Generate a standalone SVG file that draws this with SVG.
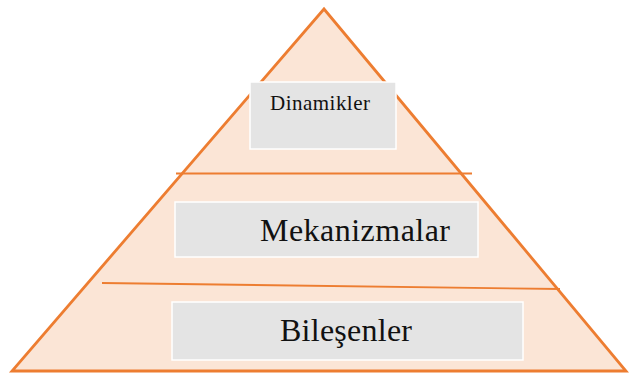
<svg xmlns="http://www.w3.org/2000/svg" width="629" height="374" viewBox="0 0 629 374">
<style>
.tri{fill:#FBE5D6;stroke:#ED7D31;stroke-width:2.8;stroke-linejoin:miter}
.sep{stroke:#ED7D31;stroke-width:1.8;fill:none}
.box{fill:#E4E4E4;stroke:#FFFFFF;stroke-width:1.5}
.lbl{font-family:"Liberation Serif","Times New Roman",serif;fill:#111}
</style>
<rect width="629" height="374" fill="#FFFFFF"/>
<g id="pyramid">
<polygon class="tri" points="324,9 12,371 626,371"/>
</g>
<g id="connectors">
<line class="sep" x1="176" y1="173.5" x2="472" y2="173.5"/>
<line class="sep" x1="102" y1="283" x2="560" y2="289"/>
</g>
<g id="dinamikler">
<rect class="box" x="250" y="82" width="146" height="67"/>
<text class="lbl" x="270" y="110" font-size="21" textLength="100" lengthAdjust="spacing">Dinamikler</text>
</g>
<g id="mekanizmalar">
<rect class="box" x="175" y="202" width="303" height="55"/>
<text class="lbl" x="260" y="241" font-size="32" textLength="190" lengthAdjust="spacing">Mekanizmalar</text>
</g>
<g id="bilesenler">
<rect class="box" x="172" y="302" width="351" height="58"/>
<text class="lbl" x="280" y="341" font-size="32" textLength="132" lengthAdjust="spacing">Bileşenler</text>
</g>
</svg>
